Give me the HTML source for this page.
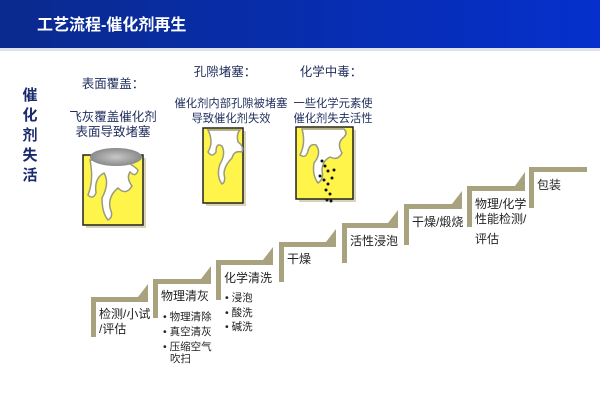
<!DOCTYPE html>
<html><head><meta charset="utf-8"><style>
html,body{margin:0;padding:0;background:#fff;}
svg{display:block;}
text{font-family:"Liberation Sans","Noto Sans CJK SC",sans-serif;}
</style></head><body>
<svg width="600" height="400" viewBox="0 0 600 400" xmlns="http://www.w3.org/2000/svg">
<defs>
<linearGradient id="hg" x1="0" x2="1" y1="0" y2="0">
<stop offset="0" stop-color="#0a2a8e"/><stop offset="1" stop-color="#0530cc"/>
</linearGradient>
<radialGradient id="ash"><stop offset="0" stop-color="#c8c8c8"/><stop offset="1" stop-color="#8a8a8a"/></radialGradient>
</defs>
<rect x="0" y="0" width="600" height="48" fill="url(#hg)"/>
<rect x="0" y="48" width="600" height="3" fill="#dfe3ee"/>
<text x="37" y="30" fill="#fff" font-size="16" font-weight="bold">工艺流程-催化剂再生</text>

<g fill="#1a2a6c" font-size="15" font-weight="bold" text-anchor="middle">
<text x="30" y="100">催</text><text x="30" y="120">化</text><text x="30" y="140">剂</text><text x="30" y="160">失</text><text x="30" y="180">活</text>
</g>

<g fill="#1f2d5c" font-size="12.5" text-anchor="middle">
<text x="113" y="88">表面覆盖：</text>
<text x="113" y="121">飞灰覆盖催化剂</text>
<text x="113" y="136">表面导致堵塞</text>
<text x="225" y="76">孔隙堵塞：</text>
<text x="331" y="76">化学中毒：</text>
</g>
<g fill="#1f2d5c" font-size="11.3" text-anchor="middle">
<text x="231" y="107">催化剂内部孔隙被堵塞</text>
<text x="231" y="122">导致催化剂失效</text>
<text x="333" y="107">一些化学元素使</text>
<text x="333" y="122">催化剂失去活性</text>
</g>

<!-- catalyst boxes -->
<g>
<rect x="86" y="158" width="60" height="70" fill="#d8d4b8"/>
<rect x="83" y="155" width="60" height="70" fill="#fff44a" stroke="#222" stroke-width="1.5"/>
<path d="M90 160 q4 20 -2 35 q5 5 8 -2 q-2 -15 8 -20 q6 10 -2 25 q0 15 6 22 q6 -3 2 -12 q-2 -12 8 -20 q8 8 14 -2 q-6 -8 -2 -14 q6 6 8 -2 q-10 -10 -20 -8 z" fill="#fff" stroke="#9a9a80" stroke-width="1.5"/>
<ellipse cx="116" cy="157" rx="26" ry="9" fill="url(#ash)"/>

<rect x="206" y="131" width="40" height="75" fill="#d8d4b8"/>
<rect x="203" y="128" width="40" height="75" fill="#fff44a" stroke="#222" stroke-width="1.5"/>
<path d="M208 130 q6 12 0 22 q4 6 8 0 q0 -10 6 -6 q4 8 -2 18 q-4 12 2 20 q4 -2 2 -10 q0 -8 8 -16 q2 -8 10 -6 q2 -6 -4 -10 q-2 -8 2 -12 z" fill="#fff" stroke="#9a9a80" stroke-width="1.5"/>

<rect x="299" y="130" width="57" height="72" fill="#d8d4b8"/>
<rect x="296" y="127" width="57" height="72" fill="#fff44a" stroke="#222" stroke-width="1.5"/>
<path d="M302 129 q4 14 -2 26 q6 4 8 -4 q2 -8 8 -6 q6 8 -2 18 q-2 12 4 20 q6 -4 4 -12 q0 -10 8 -14 q8 4 12 -4 q-6 -10 2 -16 q4 -4 0 -8 z" fill="#fff" stroke="#9a9a80" stroke-width="1.5"/>
<g fill="#111">
<circle cx="322" cy="161" r="1.5"/><circle cx="325" cy="166" r="1.5"/><circle cx="328" cy="171" r="1.5"/><circle cx="320" cy="176" r="1.5"/><circle cx="324" cy="180" r="1.5"/><circle cx="328" cy="184" r="1.5"/><circle cx="332" cy="178" r="1.5"/><circle cx="326" cy="190" r="1.5"/><circle cx="330" cy="194" r="1.5"/><circle cx="327" cy="200" r="1.5"/><circle cx="331" cy="201" r="1.5"/><circle cx="334" cy="170" r="1.5"/>
</g>
</g>

<!-- steps -->
<g fill="#a8a27e">
<path d="M91 297 h57 v5 h-52 v35 h-5 z"/><path d="M138 297 L148 284 V297 z"/>
<path d="M153 279 h58 v5 h-53 v34 h-5 z"/><path d="M201 279 L211 266 V279 z"/>
<path d="M216 260 h57 v5 h-52 v35 h-5 z"/><path d="M263 260 L273 247 V260 z"/>
<path d="M279 242 h57 v5 h-52 v35 h-5 z"/><path d="M326 242 L336 229 V242 z"/>
<path d="M342 223 h56 v5 h-51 v35 h-5 z"/><path d="M388 223 L398 210 V223 z"/>
<path d="M404 204 h58 v5 h-53 v36 h-5 z"/><path d="M452 204 L462 191 V204 z"/>
<path d="M467 186 h58 v5 h-53 v36 h-5 z"/><path d="M515 186 L525 172 V186 z"/>
<path d="M529 167 h58 v5 h-53 v36 h-5 z"/>
</g>

<g fill="#222" font-size="12">
<text x="99" y="318">检测/小试</text>
<text x="99" y="333">/评估</text>
<text x="161" y="300">物理清灰</text>
<text x="224" y="282">化学清洗</text>
<text x="287" y="263">干燥</text>
<text x="350" y="245">活性浸泡</text>
<text x="412" y="226">干燥/煅烧</text>
<text x="475" y="208">物理/化学</text>
<text x="475" y="223">性能检测/</text>
<text x="475" y="243">评估</text>
<text x="537" y="189">包装</text>
</g>
<g fill="#222" font-size="10.5">
<text x="163" y="320">• 物理清除</text>
<text x="163" y="335">• 真空清灰</text>
<text x="163" y="350">• 压缩空气</text>
<text x="170" y="362">吹扫</text>
<text x="225" y="301">• 浸泡</text>
<text x="225" y="316">• 酸洗</text>
<text x="225" y="330">• 碱洗</text>
</g>
</svg>
</body></html>
